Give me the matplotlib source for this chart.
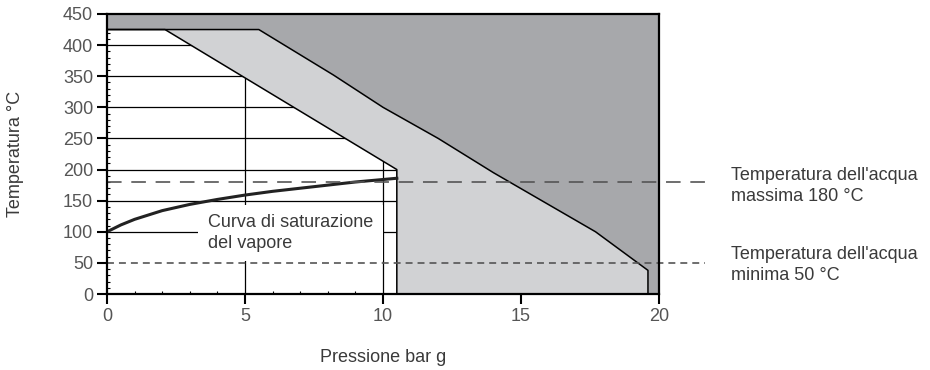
import matplotlib
matplotlib.use("Agg")
import matplotlib.pyplot as plt

plt.rcParams["font.family"] = ["Liberation Sans", "DejaVu Sans"]
plt.rcParams["lines.scale_dashes"] = False

# Saturation curve of steam (bar g -> °C)
sat_p = [0, 0.5, 1, 1.5, 2, 3, 4, 5, 6, 7, 8, 9, 10, 10.5]
sat_t = [100, 111, 120, 127, 134, 144, 152, 159, 165, 170, 175, 180, 184, 186]

# White (allowed) region boundary
white_p = [0, 2.1, 10.5, 10.5]
white_t = [425, 425, 200, 0]

# Boundary between light and dark grey regions
limit_p = [0, 5.5, 8.2, 10, 12, 14, 17.7, 19.6, 19.6]
limit_t = [425, 425, 352, 300, 250, 195, 100, 38, 0]

grid_t = [100, 150, 200, 250, 300, 350, 400]
grid_p = [5, 10]

t_max = 180
t_min = 50

LIGHT = "#d1d2d4"
DARK = "#a7a8ab"
TXT = "#3a3a3a"
FS = 13

fig = plt.figure(figsize=(9.3, 3.7), dpi=100)
ax = fig.add_axes([0.1151, 0.2054, 0.5935, 0.7568])
ax.set_xlim(0, 20)
ax.set_ylim(0, 450)

# grid (only visible in white region)
for t in grid_t:
    ax.axhline(t, color="black", lw=0.9, zorder=1)
for p in grid_p:
    ax.axvline(p, color="black", lw=0.9, zorder=1)

# dark region
dark_x = [0] + limit_p + [20, 20]
dark_y = [450] + limit_t + [0, 450]
ax.fill(dark_x, dark_y, color=DARK, zorder=2, lw=0)

# light band between white region and limit
light_x = white_p[1:] + limit_p[::-1][:-1]
light_y = white_t[1:] + limit_t[::-1][:-1]
ax.fill(light_x, light_y, color=LIGHT, zorder=2, lw=0)

ax.plot(white_p, white_t, color="black", lw=1.1, zorder=3)
ax.plot(limit_p, limit_t, color="black", lw=1.1, zorder=3)

ax.text(3.66, 98, "Curva di saturazione\ndel vapore", fontsize=FS,
        color=TXT, va="center", ha="left", zorder=4, linespacing=1.25,
        bbox=dict(facecolor="white", edgecolor="none", pad=7))

ax.plot(sat_p, sat_t, color="#222222", lw=2.2, zorder=5)

ax.plot([0, 21.67], [t_max, t_max], color="#555555", lw=1.2,
        dashes=(10.5, 7), clip_on=False, zorder=6)
ax.plot([0, 21.67], [t_min, t_min], color="#555555", lw=1.2,
        dashes=(5, 3.6), clip_on=False, zorder=6)

ax.text(22.6, 174, "Temperatura dell'acqua\nmassima 180 °C", fontsize=FS,
        color=TXT, va="center", ha="left", linespacing=1.32)
ax.text(22.6, 46, "Temperatura dell'acqua\nminima 50 °C", fontsize=FS,
        color=TXT, va="center", ha="left", linespacing=1.32)

ax.set_xticks([0, 5, 10, 15, 20])
ax.set_yticks(range(0, 451, 50))
ax.set_xticks(range(0, 21), minor=True)
ax.set_yticks(range(0, 451, 10), minor=True)
ax.tick_params(which="major", length=7, width=1.5, color="black",
               labelsize=FS, labelcolor="#555555", direction="out", pad=3)
ax.tick_params(which="minor", length=2.5, width=0.8, color="black",
               direction="in")
for s in ax.spines.values():
    s.set_linewidth(1.6)
    s.set_zorder(7)

ax.set_xlabel("Pressione bar g", fontsize=FS, color=TXT, labelpad=17)
ax.set_ylabel("Temperatura °C", fontsize=FS, color=TXT, labelpad=28)

fig.savefig("out.png", dpi=100)
